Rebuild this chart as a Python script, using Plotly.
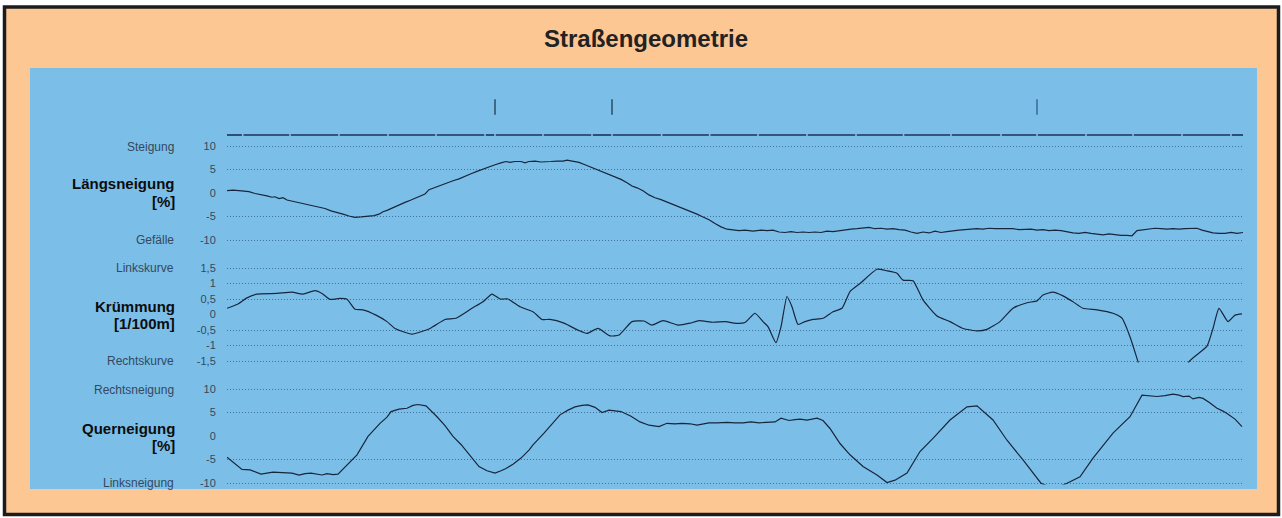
import plotly.graph_objects as go

# ---------------- data ----------------
# station along the road (arbitrary units, 0..1016)
laengs_x = [0, 6, 12, 18, 22, 28, 34, 40, 45, 48, 52, 56, 60, 66, 73, 80, 86, 92, 98, 104, 110,
            116, 122, 128, 134, 140, 144, 147, 152, 156, 160, 166, 172, 178, 184, 190, 194, 198,
            202, 208, 214, 220, 226, 232, 238, 244, 250, 256, 262, 268, 274, 279, 283, 288, 294,
            298, 302, 308, 314, 318, 324, 330, 336, 340, 346, 352, 358, 364, 370, 376, 382, 388,
            394, 400, 405, 410, 416, 422, 428, 434, 440, 446, 452, 458, 464, 470, 476, 482, 488,
            494, 500, 506, 512, 518, 526, 534, 540, 546, 552, 558, 564, 570, 576, 582, 588, 594,
            600, 606, 612, 618, 624, 630, 636, 642, 648, 654, 660, 666, 672, 678, 684, 690, 696,
            702, 708, 714, 720, 726, 732, 738, 744, 750, 756, 762, 768, 774, 780, 786, 792, 798,
            804, 810, 816, 822, 828, 834, 840, 846, 852, 858, 864, 870, 876, 882, 888, 894, 900,
            905, 910, 916, 922, 928, 934, 940, 946, 952, 958, 964, 970, 975, 980, 986, 992, 998,
            1004, 1010, 1016]
laengs_y = [0.5, 0.6, 0.5, 0.4, 0.3, -0.1, -0.3, -0.6, -0.9, -0.8, -1.2, -1.0, -1.5, -1.8, -2.1,
            -2.4, -2.7, -3.0, -3.3, -3.8, -4.1, -4.5, -4.9, -5.2, -5.1, -5.0, -5.0, -4.8, -4.5,
            -4.0, -3.7, -3.1, -2.5, -2.0, -1.5, -0.9, -0.6, -0.2, 0.7, 1.2, 1.6, 2.1, 2.6, 3.0,
            3.6, 4.1, 4.6, 5.1, 5.5, 6.0, 6.4, 6.7, 6.5, 6.7, 6.7, 6.4, 6.7, 6.8, 6.6, 6.7, 6.7,
            6.8, 6.8, 7.0, 6.7, 6.5, 6.0, 5.5, 5.0, 4.4, 4.0, 3.4, 2.9, 2.2, 1.5, 1.1, 0.5, -0.4,
            -1.0, -1.4, -1.9, -2.5, -3.0, -3.5, -4.0, -4.5, -5.1, -5.7, -6.5, -7.2, -7.7, -7.9,
            -8.0, -7.9, -8.1, -7.9, -8.0, -7.9, -8.3, -8.4, -8.2, -8.4, -8.3, -8.4, -8.3, -8.4,
            -8.1, -8.2, -8.0, -7.9, -7.7, -7.6, -7.5, -7.3, -7.6, -7.5, -7.7, -7.6, -7.8, -7.9,
            -8.3, -8.6, -8.3, -8.5, -8.1, -8.4, -8.2, -8.0, -7.9, -7.8, -7.7, -7.6, -7.7, -7.5,
            -7.6, -7.6, -7.7, -7.6, -7.8, -7.7, -7.7, -7.9, -7.8, -8.0, -7.9, -8.0, -8.3, -8.5,
            -8.6, -8.4, -8.6, -8.8, -8.9, -8.7, -8.9, -9.0, -9.0, -9.1, -8.0, -7.8, -7.6, -7.5,
            -7.6, -7.7, -7.6, -7.7, -7.6, -7.5, -7.5, -7.9, -8.2, -8.5, -8.6, -8.6, -8.4, -8.6,
            -8.4]

kruemm_x = [0, 11, 19, 30, 50, 65, 76, 88, 95, 103, 113, 120, 128, 136, 149, 160, 168, 185, 203,
            218, 229, 245, 256, 265, 273, 281, 293, 306, 315, 323, 337, 352, 360, 371, 383, 392,
            405, 417, 425, 436, 451, 463, 472, 486, 499, 507, 518, 528, 536, 541, 549, 554, 560,
            565, 571, 578, 586, 596, 606, 615, 623, 633, 650, 660, 670, 676, 686, 696, 710, 723,
            736, 751, 760, 773, 786, 800, 810, 816, 826, 836, 846, 856, 870, 886, 895, 903, 911,
            920, 940, 955, 962, 980, 986, 992, 1001, 1008, 1015]
kruemm_y = [0.2, 0.34, 0.52, 0.66, 0.68, 0.72, 0.66, 0.77, 0.68, 0.49, 0.52, 0.49, 0.17, 0.15,
            -0.02, -0.23, -0.45, -0.63, -0.45, -0.16, -0.12, 0.2, 0.41, 0.66, 0.5, 0.5, 0.25,
            0.09, -0.16, -0.16, -0.28, -0.52, -0.61, -0.45, -0.69, -0.66, -0.23, -0.21, -0.34,
            -0.2, -0.34, -0.28, -0.2, -0.25, -0.23, -0.28, -0.26, 0.04, -0.23, -0.39, -0.91,
            -0.4, 0.58, 0.25, -0.32, -0.23, -0.16, -0.12, 0.09, 0.2, 0.74, 1.0, 1.46, 1.41, 1.33,
            1.11, 1.09, 0.47, -0.05, -0.23, -0.45, -0.53, -0.48, -0.23, 0.2, 0.38, 0.44, 0.63,
            0.72, 0.6, 0.41, 0.2, 0.15, 0.04, -0.12, -0.72, -1.52, -2.4, -2.6, -2.2, -1.52, -1.02,
            -0.45, 0.2, -0.23, -0.02, 0.02]

quer_x = [0, 7, 15, 23, 34, 46, 57, 65, 72, 78, 84, 90, 95, 100, 106, 111, 120, 130, 141, 153,
          160, 164, 172, 180, 186, 191, 199, 210, 218, 226, 234, 241, 252, 260, 268, 274, 279,
          286, 294, 302, 306, 317, 325, 333, 341, 348, 355, 361, 368, 375, 382, 388, 394, 404,
          413, 422, 432, 440, 448, 455, 463, 470, 476, 482, 490, 500, 508, 516, 524, 532, 539,
          548, 554, 562, 568, 573, 580, 590, 596, 603, 613, 623, 636, 650, 660, 668, 680, 693,
          706, 723, 740, 750, 766, 780, 796, 814, 827, 840, 853, 866, 886, 903, 915, 922, 930,
          938, 946, 952, 956, 962, 966, 972, 976, 982, 990, 996, 1000, 1008, 1015]
quer_y = [-4.5, -5.8, -7.1, -7.2, -8.1, -7.7, -7.8, -7.9, -8.3, -8.0, -7.9, -8.2, -8.3, -8.0,
          -8.2, -8.1, -6.2, -4.0, -0.1, 2.7, 4.0, 5.2, 5.7, 5.9, 6.5, 6.7, 6.4, 4.1, 2.2, -0.1,
          -1.8, -3.7, -6.5, -7.4, -7.9, -7.4, -6.9, -6.0, -4.7, -3.0, -1.9, 0.6, 2.5, 4.5, 5.5,
          6.2, 6.5, 6.6, 6.1, 5.0, 5.5, 5.4, 5.2, 4.2, 3.0, 2.3, 2.0, 2.7, 2.6, 2.7, 2.6, 2.3,
          2.6, 2.8, 2.8, 2.9, 2.8, 2.8, 3.0, 2.8, 2.9, 3.0, 3.8, 3.3, 3.5, 3.6, 3.4, 3.8, 3.3,
          1.6, -1.6, -4.0, -6.5, -8.3, -9.9, -9.4, -7.9, -3.3, -0.5, 3.4, 6.2, 6.4, 3.4, -0.9,
          -5.1, -10.05, -11.2, -10.05, -8.7, -4.7, 0.6, 4.1, 8.7, 8.6, 8.4, 8.6, 8.9, 8.7, 8.4,
          8.5, 7.9, 8.2, 8.0, 7.2, 5.9, 5.3, 4.8, 3.6, 2.0]

# station line (segments separated at these stations) and event markers
station_breaks = [15.7, 63, 112, 161, 209, 258, 268, 316, 365, 385, 434.6, 482.7, 531, 580,
                  629, 676.5, 724, 774, 810, 859, 906, 955, 1004]
event_stations = [268, 385, 810]
x_end = 1016

laengs_ticks = [10, 5, -5, -10]
laengs_ticktext = ["10", "5", "-5", "-10"]
kruemm_ticks = [1.5, 1, 0.5, -0.5, -1, -1.5]
kruemm_ticktext = ["1,5", "1", "0,5", "-0,5", "-1", "-1,5"]
quer_ticks = [10, 5, -5, -10]
quer_ticktext = ["10", "5", "-5", "-10"]

title_text = "Straßengeometrie"
side_labels = [("Steigung", 147), ("Gefälle", 240), ("Linkskurve", 268), ("Rechtskurve", 361),
               ("Rechtsneigung", 390), ("Linksneigung", 483)]
bold_labels = [("Längsneigung", 184), ("[%]", 201), ("Krümmung", 306), ("[1/100m]", 323),
               ("Querneigung", 428), ("[%]", 446)]

# ---------------- layout helpers ----------------
W, H = 1282, 518
def px(x):
    return x / W
def py(y):
    return 1 - y / H

FONT = "Liberation Sans, Arial, sans-serif"
LINE = "#17263d"
GRID = "#41719f"
TXT = "#34485e"
PEACH = "#FDC794"
BLUE = "#7BBFE8"

# build station line with small breaks
sx, sy = [], []
prev = 0
for b in station_breaks:
    sx += [prev, b - 0.8, None]
    sy += [0, 0, None]
    prev = b + 0.8
sx += [prev, x_end]
sy += [0, 0]

fig = go.Figure()
fig.add_trace(go.Scatter(x=sx, y=sy, xaxis="x", yaxis="y4", mode="lines",
                         line=dict(color="#1a3556", width=1.6), hoverinfo="skip"))
fig.add_trace(go.Scatter(x=event_stations, y=[5.6] * len(event_stations), xaxis="x", yaxis="y4",
                         mode="markers",
                         marker=dict(symbol="line-ns", size=11,
                                     line=dict(color=["#2b4a66", "#2b4a66", "#3469a0"], width=1.5)),
                         hoverinfo="skip"))
fig.add_trace(go.Scatter(x=laengs_x, y=laengs_y, xaxis="x", yaxis="y", mode="lines",
                         line=dict(color=LINE, width=1.2)))
fig.add_trace(go.Scatter(x=kruemm_x, y=kruemm_y, xaxis="x", yaxis="y2", mode="lines",
                         line=dict(color=LINE, width=1.2, shape="spline", smoothing=0.5)))
fig.add_trace(go.Scatter(x=quer_x, y=quer_y, xaxis="x", yaxis="y3", mode="lines",
                         line=dict(color=LINE, width=1.2)))
# dummy traces so the zero-label overlay axes exist
for ax in ["y5", "y6", "y7"]:
    fig.add_trace(go.Scatter(x=[None], y=[None], xaxis="x", yaxis=ax, mode="lines",
                             hoverinfo="skip"))

tickfont = dict(family=FONT, size=11, color=TXT)
def yax(domain, rng, tv, tt, grid=True, overlay=None):
    d = dict(range=rng, tickmode="array", tickvals=tv, ticktext=tt, showgrid=grid,
             gridcolor=GRID, griddash="1px,2px", gridwidth=1, zeroline=False, showline=False,
             ticks="outside", ticklen=8, tickcolor="rgba(0,0,0,0)", tickfont=tickfont,
             anchor="x", fixedrange=True, automargin=False)
    if overlay:
        d["overlaying"] = overlay
    else:
        d["domain"] = domain
    return d

# ranges slightly wider than the outer gridlines so those gridlines are drawn
r1 = [-10.3, 10.3]
r2 = [-1.55, 1.55]
r3 = [-10.3, 10.3]
dom1 = [py(240 + 0.3 * 4.7), py(146 - 0.3 * 4.7)]
dom2 = [py(361 + 0.05 * 31), py(268 - 0.05 * 31)]
dom3 = [py(483 + 0.3 * 4.7), py(389 - 0.3 * 4.7)]

fig.update_layout(
    template="none",
    width=W, height=H, autosize=False, margin=dict(l=0, r=0, t=0, b=0, pad=0),
    paper_bgcolor="white", plot_bgcolor="rgba(0,0,0,0)", showlegend=False,
    font=dict(family=FONT),
    xaxis=dict(domain=[px(227), px(1243)], range=[0, x_end], visible=False, fixedrange=True,
               automargin=False),
    yaxis=yax(dom1, r1, laengs_ticks, laengs_ticktext),
    yaxis2=yax(dom2, r2, kruemm_ticks, kruemm_ticktext),
    yaxis3=yax(dom3, r3, quer_ticks, quer_ticktext),
    yaxis4=dict(domain=[py(140), py(95)], range=[-1, 8], visible=False, anchor="x",
                fixedrange=True, automargin=False),
    yaxis5=yax(None, r1, [0], ["0"], grid=False, overlay="y"),
    yaxis6=yax(None, r2, [0], ["0"], grid=False, overlay="y2"),
    yaxis7=yax(None, r3, [0], ["0"], grid=False, overlay="y3"),
)

shapes = [
    dict(type="rect", xref="paper", yref="paper", x0=px(4.5), x1=px(1278.5), y0=py(514.5), y1=py(7),
         fillcolor=PEACH, line=dict(color="#1c1c1c", width=3.5), layer="below"),
    dict(type="rect", xref="paper", yref="paper", x0=px(30), x1=px(1257), y0=py(489), y1=py(68),
         fillcolor=BLUE, line=dict(width=0), layer="below"),
]
fig.update_layout(shapes=shapes)

ann = [dict(text="<b>%s</b>" % title_text, x=px(646), y=py(39), xref="paper", yref="paper",
            showarrow=False, xanchor="center", yanchor="middle",
            font=dict(family=FONT, size=24, color="#222222"))]
for t, y in side_labels:
    ann.append(dict(text=t, x=px(176), y=py(y), xref="paper", yref="paper", showarrow=False,
                    xanchor="right", yanchor="middle", font=dict(family=FONT, size=12, color=TXT)))
for t, y in bold_labels:
    ann.append(dict(text="<b>%s</b>" % t, x=px(176.5), y=py(y), xref="paper", yref="paper",
                    showarrow=False, xanchor="right", yanchor="middle",
                    font=dict(family=FONT, size=15, color="#0d0d0d")))
fig.update_layout(annotations=ann)

fig.write_html("out.html", config={"displayModeBar": False, "staticPlot": True},
               post_script="document.body.style.margin='0';document.body.style.overflow='hidden';")
